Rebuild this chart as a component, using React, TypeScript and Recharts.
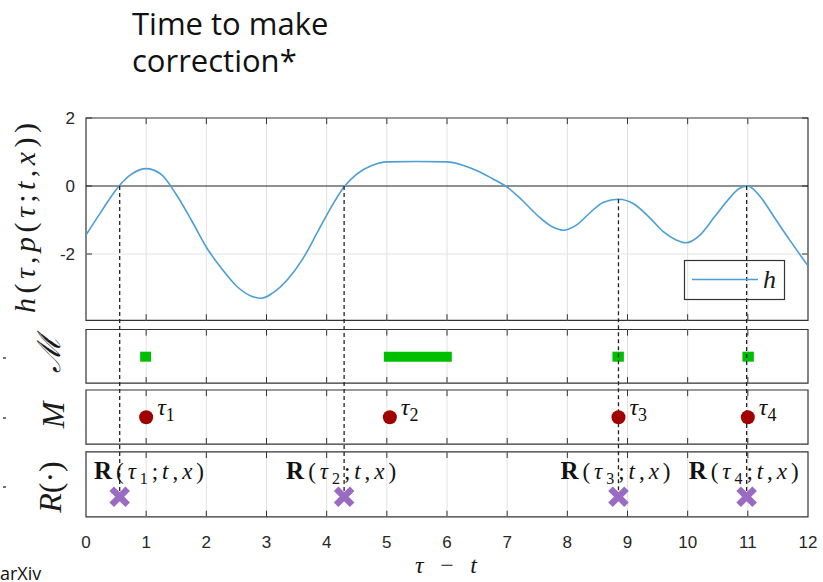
import React from "react";
import {
  ComposedChart,
  Line,
  Scatter,
  XAxis,
  YAxis,
  ReferenceLine,
  ReferenceArea,
} from "recharts";

// h(tau, p(tau; t, x))
const tauX = [
  0, 0.25, 0.55, 0.75, 1.0, 1.25, 1.5, 1.75, 2.0, 2.25, 2.5, 2.75, 2.92, 3.1,
  3.35, 3.6, 3.85, 4.05, 4.3, 4.5, 4.75, 5.0, 5.5, 6.0, 6.25, 6.5, 6.75, 7.0,
  7.25, 7.5, 7.75, 7.93, 8.15, 8.4, 8.6, 8.85, 9.1, 9.35, 9.6, 9.8, 9.97, 10.2,
  10.45, 10.7, 10.85, 11.0, 11.2, 11.45, 11.7, 12.0,
];
const hValues = [
  -1.44, -0.76, 0.0, 0.34, 0.51, 0.34, -0.25, -1.0, -1.8, -2.42, -2.94, -3.24,
  -3.3, -3.15, -2.75, -2.15, -1.35, -0.7, 0.0, 0.35, 0.6, 0.71, 0.72, 0.71,
  0.62, 0.45, 0.22, -0.03, -0.42, -0.86, -1.2, -1.3, -1.15, -0.75, -0.48,
  -0.39, -0.52, -0.9, -1.35, -1.58, -1.67, -1.45, -0.9, -0.35, -0.08, 0.0,
  -0.3, -0.95, -1.6, -2.35,
];

const xTicks = [0, 1, 2, 3, 4, 5, 6, 7, 8, 9, 10, 11, 12];
const yTicks = [-2, 0, 2];

// set ℳ : intervals
const setStarts = [0.9, 4.95, 8.75, 10.91];
const setEnds = [1.08, 6.08, 8.94, 11.1];

// M : tau_i
const markTimes = [1.0, 5.05, 8.85, 11.0];
const markNames = ["1", "2", "3", "4"];

// R(tau_i; t, x)
const resetTimes = [0.56, 4.29, 8.85, 10.98];
const resetH = [0, 0, -0.39, 0];

// stacked panels share one y scale (2 at top of h panel)
const Y_MIN = -9.735;
const Y_MAX = 2;
const hPanel = { top: 2, bottom: -3.95 };
const setPanel = { top: -4.22, bottom: -5.8, level: -5.02 };
const mPanel = { top: -6.0, bottom: -7.59, level: -6.8 };
const rPanel = { top: -7.82, bottom: -9.73, level: -9.14 };
const panels = [hPanel, setPanel, mPanel, rPanel];

const TICK_Y = 0.18;
const TICK_X = 0.1;
const PLOT_LEFT = 86;

const BLUE = "#4b9fd5";
const GREEN = "#00bf00";
const RED = "#a00000";
const PURPLE = "#9a6bc2";
const AXIS = "#333333";
const GRID = "#e2e2e2";
const SERIF = "'Liberation Serif', 'DejaVu Serif', serif";
const SANS = "'Liberation Sans', Arial, sans-serif";

const curve = tauX.map((x, i) => ({ x, h: hValues[i] }));
const marks = markTimes.map((x, i) => ({ x, y: mPanel.level, n: markNames[i] }));
const resets = resetTimes.map((x, i) => ({ x, y: rPanel.level, n: markNames[i] }));
const setBars = setStarts.map((s, i) => [
  { x: s, g: setPanel.level },
  { x: setEnds[i], g: setPanel.level },
]);
const inner = xTicks.slice(1, -1);

const MarkDot = (p: any) => (
  <g>
    <circle cx={p.cx} cy={p.cy} r={7} fill={RED} />
    <text x={p.cx + 11} y={p.cy - 2} fontFamily={SERIF} fontSize={24} fill="#111">
      <tspan fontStyle="italic">τ</tspan>
      <tspan dy={6} fontSize={18}>
        {p.payload.n}
      </tspan>
    </text>
  </g>
);

const ResetCross = (p: any) => {
  const s = 8;
  const lx = Math.max(p.cx - 58, PLOT_LEFT + 8);
  return (
    <g>
      <path
        d={`M${p.cx - s},${p.cy - s}L${p.cx + s},${p.cy + s}M${p.cx - s},${p.cy + s}L${p.cx + s},${p.cy - s}`}
        stroke={PURPLE}
        strokeWidth={6.5}
      />
      <text
        x={lx}
        y={p.cy - 18}
        fontFamily={SERIF}
        fontSize={23}
        fill="#111"
        textLength={110}
        lengthAdjust="spacing"
      >
        <tspan fontWeight="bold" fontSize={25}>R</tspan>
        <tspan>(</tspan>
        <tspan fontStyle="italic">τ</tspan>
        <tspan dy={5} fontSize={16}>
          {p.payload.n}
        </tspan>
        <tspan dy={-5}>;</tspan>
        <tspan fontStyle="italic">t</tspan>
        <tspan>,</tspan>
        <tspan fontStyle="italic">x</tspan>
        <tspan>)</tspan>
      </text>
    </g>
  );
};

const gridLines = panels.flatMap((pn, pi) =>
  inner.map((x) => (
    <ReferenceLine
      key={`g${pi}-${x}`}
      segment={[{ x, y: pn.bottom }, { x, y: pn.top }]}
      stroke={GRID}
      ifOverflow="visible"
    />
  ))
);

const tickMarks = panels.flatMap((pn, pi) =>
  inner.flatMap((x) => [
    <ReferenceLine
      key={`tb${pi}-${x}`}
      segment={[{ x, y: pn.bottom }, { x, y: pn.bottom + TICK_Y }]}
      stroke={AXIS}
      ifOverflow="visible"
    />,
    <ReferenceLine
      key={`tt${pi}-${x}`}
      segment={[{ x, y: pn.top }, { x, y: pn.top - TICK_Y }]}
      stroke={AXIS}
      ifOverflow="visible"
    />,
  ])
);

const yTickMarks = yTicks.flatMap((y) => [
  <ReferenceLine
    key={`yl${y}`}
    segment={[{ x: 0, y }, { x: TICK_X, y }]}
    stroke={AXIS}
    ifOverflow="visible"
  />,
  <ReferenceLine
    key={`yr${y}`}
    segment={[{ x: 12 - TICK_X, y }, { x: 12, y }]}
    stroke={AXIS}
    ifOverflow="visible"
  />,
]);

export default function App() {
  return (
    <div
      style={{
        position: "absolute",
        left: 0,
        top: 0,
        width: 823,
        height: 582,
        background: "#fff",
      }}
    >
      <ComposedChart
        width={823}
        height={582}
        data={curve}
        margin={{ top: 118, right: 15, bottom: 35, left: 0 }}
      >
        <XAxis
          type="number"
          dataKey="x"
          domain={[0, 12]}
          ticks={xTicks}
          interval={0}
          axisLine={false}
          tickLine={false}
          tickMargin={13}
          height={30}
          tick={{ fontFamily: SANS, fontSize: 17, fill: "#262626" }}
        />
        <YAxis
          type="number"
          domain={[Y_MIN, Y_MAX]}
          ticks={yTicks}
          interval={0}
          allowDataOverflow
          axisLine={false}
          tickLine={false}
          tickMargin={5}
          width={86}
          tick={{ fontFamily: SANS, fontSize: 17, fill: "#262626" }}
        />
        {gridLines}
        <ReferenceLine y={-2} stroke={GRID} ifOverflow="visible" />
        {panels.map((pn, i) => (
          <ReferenceArea
            key={`frame${i}`}
            x1={0}
            x2={12}
            y1={pn.bottom}
            y2={pn.top}
            fill="none"
            stroke={AXIS}
            strokeWidth={1.2}
            ifOverflow="visible"
          />
        ))}
        {tickMarks}
        {yTickMarks}
        <ReferenceLine y={0} stroke="#222" strokeWidth={1.2} ifOverflow="visible" />
        {setBars.map((bar, i) => (
          <Line
            key={`set${i}`}
            data={bar}
            dataKey="g"
            stroke={GREEN}
            strokeWidth={10}
            strokeLinecap="butt"
            dot={false}
            activeDot={false}
            isAnimationActive={false}
          />
        ))}
        <Line
          type="monotone"
          dataKey="h"
          stroke={BLUE}
          strokeWidth={1.6}
          dot={false}
          activeDot={false}
          isAnimationActive={false}
        />
        {resetTimes.map((x, i) => (
          <ReferenceLine
            key={`dash${i}`}
            segment={[{ x, y: resetH[i] }, { x, y: rPanel.level }]}
            stroke="#222"
            strokeWidth={1.3}
            strokeDasharray="4 3"
            ifOverflow="visible"
          />
        ))}
        <Scatter data={marks} dataKey="y" shape={MarkDot} isAnimationActive={false} />
        <Scatter data={resets} dataKey="y" shape={ResetCross} isAnimationActive={false} />
      </ComposedChart>
      <svg
        width={823}
        height={582}
        style={{ position: "absolute", left: 0, top: 0, pointerEvents: "none" }}
      >
        <text x={132} y={35} fontFamily="'Open Sans', sans-serif" fontSize={31} fill="#111">
          Time to make
        </text>
        <text x={132} y={72} fontFamily="'Open Sans', sans-serif" fontSize={31} fill="#111">
          correction*
        </text>
        <text x={0} y={580} fontFamily="'Open Sans', sans-serif" fontSize={18} fill="#111">
          arXiv
        </text>
        <text
          transform="translate(35,218) rotate(-90)"
          textAnchor="middle"
          fontFamily={SERIF}
          fontSize={30}
          fill="#1a1a1a"
          textLength={190}
          lengthAdjust="spacing"
        >
          <tspan fontStyle="italic">h</tspan>(<tspan fontStyle="italic">τ</tspan>,
          <tspan fontStyle="italic">p</tspan>(<tspan fontStyle="italic">τ</tspan>;
          <tspan fontStyle="italic">t</tspan>,<tspan fontStyle="italic">x</tspan>))
        </text>
        <text
          transform="translate(60,354) rotate(-90)"
          textAnchor="middle"
          fontFamily={SERIF}
          fontSize={32}
          fontStyle="italic"
          fill="#1a1a1a"
        >
          ℳ
        </text>
        <text
          transform="translate(64,415) rotate(-90)"
          textAnchor="middle"
          fontFamily={SERIF}
          fontSize={32}
          fontStyle="italic"
          fill="#1a1a1a"
        >
          M
        </text>
        <text
          transform="translate(61,487) rotate(-90)"
          textAnchor="middle"
          fontFamily={SERIF}
          fontSize={32}
          fill="#1a1a1a"
        >
          <tspan fontStyle="italic">R</tspan>(·)
        </text>
        {[358, 418, 487].map((y) => (
          <line key={y} x1={3} x2={6} y1={y} y2={y} stroke="#444" strokeWidth={1.5} />
        ))}
        <text
          x={415}
          y={573}
          fontFamily={SERIF}
          fontSize={24}
          fill="#1a1a1a"
          textLength={62}
          lengthAdjust="spacing"
        >
          <tspan fontStyle="italic">τ</tspan> − <tspan fontStyle="italic">t</tspan>
        </text>
        <rect x={684.5} y={260.5} width={100} height={39} fill="none" stroke={AXIS} strokeWidth={1.2} />
        <line x1={692} x2={758} y1={279.5} y2={279.5} stroke={BLUE} strokeWidth={1.6} />
        <text x={763} y={288} fontFamily={SERIF} fontSize={26} fontStyle="italic" fill="#1a1a1a">
          h
        </text>
      </svg>
    </div>
  );
}
